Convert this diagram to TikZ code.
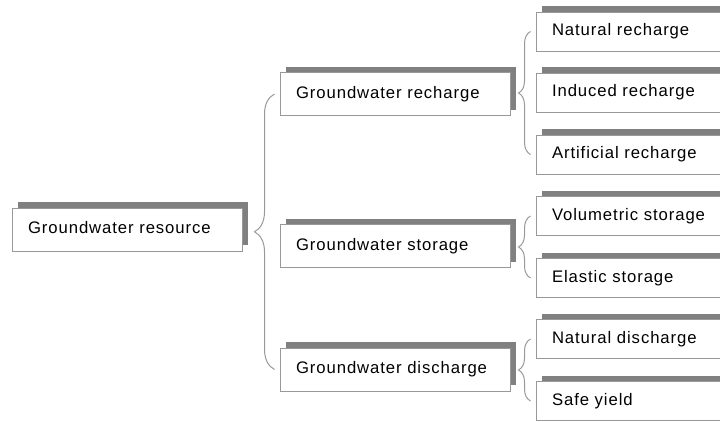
\documentclass[tikz,border=0pt]{standalone}
\usepackage{fontspec}
\setmainfont{Liberation Sans}[LetterSpace=5.5]
\usepackage{tikz}
\usetikzlibrary{decorations.pathreplacing,shadows}
\definecolor{shgray}{HTML}{808080}
\definecolor{bdgray}{HTML}{999999}

\tikzset{
  box/.style={rectangle, draw=bdgray, fill=white, line width=1pt,
    general shadow={shadow xshift=6pt, shadow yshift=6pt, fill=shgray},
    minimum width=230pt, text width=198pt, inner xsep=16pt, align=left,
    text height=12pt, text depth=4pt,
    font=\fontsize{16.7pt}{18pt}\selectfont},
  topbox/.style={box, minimum height=43pt},
  leaf/.style={box, minimum height=39pt},
  brace/.style={draw=bdgray, line width=1pt, decorate,
    decoration={brace, amplitude=#1}},
}

\begin{document}
\begin{tikzpicture}[x=1pt, y=-1pt]
\useasboundingbox (0,0) rectangle (720,421);
\clip (0,0) rectangle (720,421);
% radice e tre rami
\node[topbox] (res) at (127,229.5) {Groundwater resource};
\node[topbox] (rec) at (395,94)    {Groundwater recharge};
\node[topbox] (sto) at (395,246)   {Groundwater storage};
\node[topbox] (dis) at (395,369.5) {Groundwater discharge};
% foglie
\foreach \nm/\yy/\lab in {nrec/31.5/Natural recharge, irec/92.5/Induced recharge,
    arec/154.5/Artificial recharge, vsto/216/Volumetric storage,
    esto/278/Elastic storage, ndis/339/Natural discharge, syld/401/Safe yield}{
  \node[leaf] (\nm) at (651,\yy) {\lab};
}
% parentesi graffe
\draw[brace=20pt] ([xshift=-5]dis.west) -- ([xshift=-5]rec.west);
\draw[brace=12pt] ([xshift=-5]arec.west) -- ([xshift=-5]nrec.west);
\draw[brace=12pt] ([xshift=-5]esto.west) -- ([xshift=-5]vsto.west);
\draw[brace=12pt] ([xshift=-5]syld.west) -- ([xshift=-5]ndis.west);
\end{tikzpicture}
\end{document}
